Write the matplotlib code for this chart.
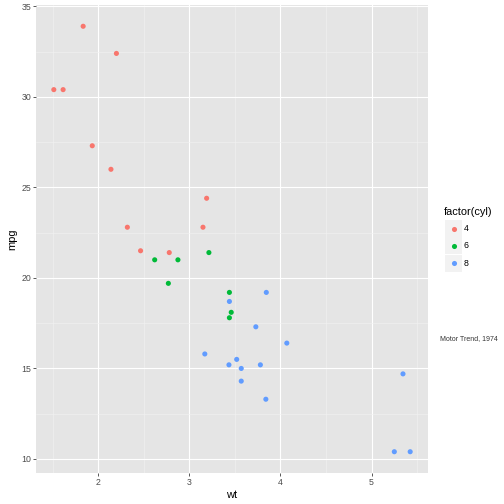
import numpy as np
import matplotlib
matplotlib.use("Agg")
import matplotlib.pyplot as plt
from matplotlib.patches import Rectangle
from matplotlib.lines import Line2D

plt.rcParams["font.family"] = ["Liberation Sans", "DejaVu Sans"]

# mtcars
wt = [2.620, 2.875, 2.320, 3.215, 3.440, 3.460, 3.570, 3.190, 3.150, 3.440,
      3.440, 4.070, 3.730, 3.780, 5.250, 5.424, 5.345, 2.200, 1.615, 1.835,
      2.465, 3.520, 3.435, 3.840, 3.845, 1.935, 2.140, 1.513, 3.170, 2.770,
      3.570, 2.780]
mpg = [21.0, 21.0, 22.8, 21.4, 18.7, 18.1, 14.3, 24.4, 22.8, 19.2,
       17.8, 16.4, 17.3, 15.2, 10.4, 10.4, 14.7, 32.4, 30.4, 33.9,
       21.5, 15.5, 15.2, 13.3, 19.2, 27.3, 26.0, 30.4, 15.8, 19.7,
       15.0, 21.4]
cyl = [6, 6, 4, 6, 8, 6, 8, 4, 4, 6,
       6, 8, 8, 8, 8, 8, 8, 4, 4, 4,
       4, 8, 8, 8, 8, 4, 4, 4, 8, 6,
       8, 4]
levels = [4, 6, 8]
colors = ["#F8766D", "#00BA38", "#619CFF"]
x_ticks = [2, 3, 4, 5]
y_ticks = [10, 15, 20, 25, 30, 35]

W = H = 504
fig = plt.figure(figsize=(7, 7), dpi=72)
ax = fig.add_axes([36 / W, 31 / H, (428 - 36) / W, (499 - 31) / H])
ax.set_facecolor("#E5E5E5")

wt_a = np.array(wt)
mpg_a = np.array(mpg)
cyl_a = np.array(cyl)
for lev, col in zip(levels, colors):
    m = cyl_a == lev
    ax.scatter(wt_a[m], mpg_a[m], s=26, color=col, edgecolors="none", zorder=3)

xr = wt_a.max() - wt_a.min()
yr = mpg_a.max() - mpg_a.min()
ax.set_xlim(wt_a.min() - 0.05 * xr, wt_a.max() + 0.05 * xr)
ax.set_ylim(mpg_a.min() - 0.05 * yr, mpg_a.max() + 0.05 * yr)

ax.set_xticks(x_ticks)
ax.set_yticks(y_ticks)
ax.set_xticks([1.5, 2.5, 3.5, 4.5, 5.5], minor=True)
ax.set_yticks([12.5, 17.5, 22.5, 27.5, 32.5], minor=True)
ax.grid(which="major", color="white", linewidth=1.1)
ax.grid(which="minor", color="#F2F2F2", linewidth=0.55)
ax.set_axisbelow(True)
for s in ax.spines.values():
    s.set_visible(False)
ax.tick_params(which="major", length=2.75, width=0.8, color="#333333",
               labelcolor="#4D4D4D", labelsize=8.8, pad=2)
ax.tick_params(which="minor", length=0)

ax.set_xlabel("wt", fontsize=11, labelpad=3)
ax.set_ylabel("mpg", fontsize=11, labelpad=4)

# legend
fig.text(444 / W, 1 - 215 / H, "factor(cyl)", fontsize=11, ha="left", va="baseline")
for i, (lev, col) in enumerate(zip(levels, colors)):
    top = 220 + i * 17.3
    fig.patches.append(Rectangle((445 / W, 1 - (top + 17) / H), 17 / W, 17 / H,
                                 transform=fig.transFigure, facecolor="#F2F2F2",
                                 edgecolor="none"))
    fig.lines.append(Line2D([453.5 / W], [1 - (top + 8.5) / H], marker="o",
                            markersize=5.1, color=col, markeredgewidth=0,
                            transform=fig.transFigure))
    fig.text(464 / W, 1 - (top + 8.5) / H, str(lev), fontsize=8.8,
             ha="left", va="center")

fig.text(440 / W, 1 - 340 / H, "Motor Trend, 1974", fontsize=7,
         color="#333333", ha="left", va="baseline")

fig.savefig("out.png", dpi=72)
